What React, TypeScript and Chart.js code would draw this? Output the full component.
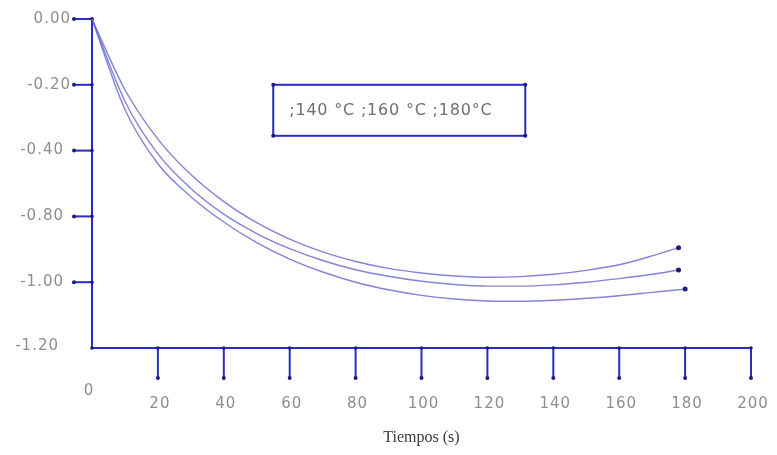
import { useEffect, useRef } from "react";
import { Chart, registerables } from "chart.js";

Chart.register(...registerables);

// ---- data ----
const timesShort = [0, 10, 20, 30, 40, 50, 60, 70, 80, 90, 100, 110, 120, 130, 140, 150, 160, 170, 178];
const timesLong = [0, 10, 20, 30, 40, 50, 60, 70, 80, 90, 100, 110, 120, 130, 140, 150, 160, 170, 180];
const serieUpper = [0, -0.215, -0.365, -0.473, -0.555, -0.619, -0.669, -0.708, -0.737, -0.758, -0.772, -0.781, -0.785, -0.783, -0.776, -0.764, -0.747, -0.72, -0.695];
const serieMiddle = [0, -0.25, -0.41, -0.515, -0.593, -0.652, -0.698, -0.734, -0.762, -0.782, -0.797, -0.807, -0.812, -0.812, -0.808, -0.8, -0.789, -0.776, -0.763];
const serieLower = [0, -0.275, -0.44, -0.54, -0.617, -0.68, -0.73, -0.769, -0.8, -0.823, -0.84, -0.851, -0.857, -0.858, -0.855, -0.849, -0.841, -0.831, -0.821];
const yTickValues = [0, -0.2, -0.4, -0.6, -0.8, -1.0];
const yTickLabels = ["0.00", "-0.20", "-0.40", "-0.80", "-1.00", "-1.20"];
const xTickValues = [0, 20, 40, 60, 80, 100, 120, 140, 160, 180, 200];
const legendText = ";140 °C ;160 °C ;180°C";
const xTitle = "Tiempos (s)";

const AXIS = "#2b2bc8";
const DOT = "#1c1c7a";
const LINE = "rgba(100, 100, 205, 0.8)";
const LABEL = "#8e8e8e";

function dot(ctx: CanvasRenderingContext2D, x: number, y: number, r = 2) {
  ctx.beginPath();
  ctx.arc(x, y, r, 0, Math.PI * 2);
  ctx.fillStyle = DOT;
  ctx.fill();
}

const axesPlugin = {
  id: "customAxes",
  beforeDatasetsDraw(chart: any) {
    const ctx: any = chart.ctx;
    const xs = chart.scales.x;
    const ys = chart.scales.y;
    const x0 = xs.getPixelForValue(0);
    const xEnd = xs.getPixelForValue(200);
    const yTop = ys.getPixelForValue(0);
    const yBot = ys.getPixelForValue(-1.0);
    ctx.save();
    ctx.strokeStyle = AXIS;
    ctx.lineWidth = 2;
    ctx.beginPath();
    ctx.moveTo(x0, yTop);
    ctx.lineTo(x0, yBot);
    ctx.stroke();
    ctx.beginPath();
    ctx.moveTo(x0, yBot);
    ctx.lineTo(xEnd, yBot);
    ctx.stroke();

    ctx.font = "15px 'DejaVu Sans', sans-serif";
    ctx.letterSpacing = "1px";
    ctx.textAlign = "right";
    ctx.textBaseline = "middle";
    yTickValues.forEach((v, i) => {
      const y = ys.getPixelForValue(v);
      if (i < yTickValues.length - 1) {
        ctx.strokeStyle = AXIS;
        ctx.beginPath();
        ctx.moveTo(x0 - 18, y);
        ctx.lineTo(x0, y);
        ctx.stroke();
        dot(ctx, x0 - 18, y);
        dot(ctx, x0, y, 1.8);
      }
      ctx.fillStyle = LABEL;
      const right = i < 2 ? 71 : i === 5 ? 59 : 64;
      ctx.fillText(yTickLabels[i], right, y - (i === 5 ? 2 : 0));
    });

    ctx.textAlign = "center";
    ctx.textBaseline = "middle";
    xTickValues.forEach((v, i) => {
      const x = xs.getPixelForValue(v);
      if (i > 0) {
        ctx.strokeStyle = AXIS;
        ctx.beginPath();
        ctx.moveTo(x, yBot);
        ctx.lineTo(x, yBot + 30);
        ctx.stroke();
        dot(ctx, x, yBot + 30);
        dot(ctx, x, yBot, 1.8);
        ctx.fillStyle = LABEL;
        ctx.fillText(String(v), x + 2, yBot + 56);
      } else {
        dot(ctx, x, yBot, 1.8);
        dot(ctx, x, yTop, 1.8);
        ctx.fillStyle = LABEL;
        ctx.fillText(String(v), x - 3, yBot + 43);
      }
    });

    ctx.letterSpacing = "0px";
    ctx.font = "16px 'Liberation Serif', serif";
    ctx.fillStyle = "#3a3a3a";
    ctx.fillText(xTitle, xs.getPixelForValue(100), yBot + 90);

    const bx = xs.getPixelForValue(55);
    const bx2 = xs.getPixelForValue(131.5);
    const by = ys.getPixelForValue(-0.2);
    const by2 = ys.getPixelForValue(-0.355);
    ctx.strokeStyle = AXIS;
    ctx.lineWidth = 2;
    ctx.strokeRect(bx, by, bx2 - bx, by2 - by);
    dot(ctx, bx, by);
    dot(ctx, bx2, by);
    dot(ctx, bx, by2);
    dot(ctx, bx2, by2);
    ctx.font = "16px 'DejaVu Sans', sans-serif";
    ctx.letterSpacing = "0.8px";
    ctx.fillStyle = "#707070";
    ctx.textAlign = "left";
    ctx.fillText(legendText, bx + 16, (by + by2) / 2 + 1);
    ctx.restore();
  },
};

function makeData(ts: number[], vs: number[]) {
  return ts.map((t, i) => ({ x: t, y: vs[i] }));
}

export default function App() {
  const ref = useRef<HTMLCanvasElement | null>(null);
  useEffect(() => {
    if (!ref.current) return;
    const endRadius = (n: number) => (ctx: any) => (ctx.dataIndex === n - 1 ? 2.5 : 0);
    const ds = (ts: number[], vs: number[]) => ({
      data: makeData(ts, vs),
      borderColor: LINE,
      borderWidth: 1.4,
      pointRadius: endRadius(ts.length),
      pointBackgroundColor: DOT,
      pointBorderColor: DOT,
      pointBorderWidth: 0,
      cubicInterpolationMode: "monotone" as const,
      fill: false,
      clip: false as any,
    });
    const chart = new Chart(ref.current, {
      type: "line",
      data: {
        datasets: [
          ds(timesShort, serieUpper),
          ds(timesShort, serieMiddle),
          ds(timesLong, serieLower),
        ],
      },
      options: {
        animation: false,
        responsive: false,
        layout: { padding: { left: 92, right: 26, top: 19, bottom: 107 } },
        plugins: { legend: { display: false }, tooltip: { enabled: false } },
        scales: {
          x: { type: "linear", min: 0, max: 200, display: false },
          y: { type: "linear", min: -1.0, max: 0, display: false },
        },
      },
      plugins: [axesPlugin],
    });
    return () => chart.destroy();
  }, []);
  return (
    <div style={{ position: "fixed", left: 0, top: 0, width: 777, height: 455, background: "#fff" }}>
      <canvas ref={ref} width={777} height={455} />
    </div>
  );
}
